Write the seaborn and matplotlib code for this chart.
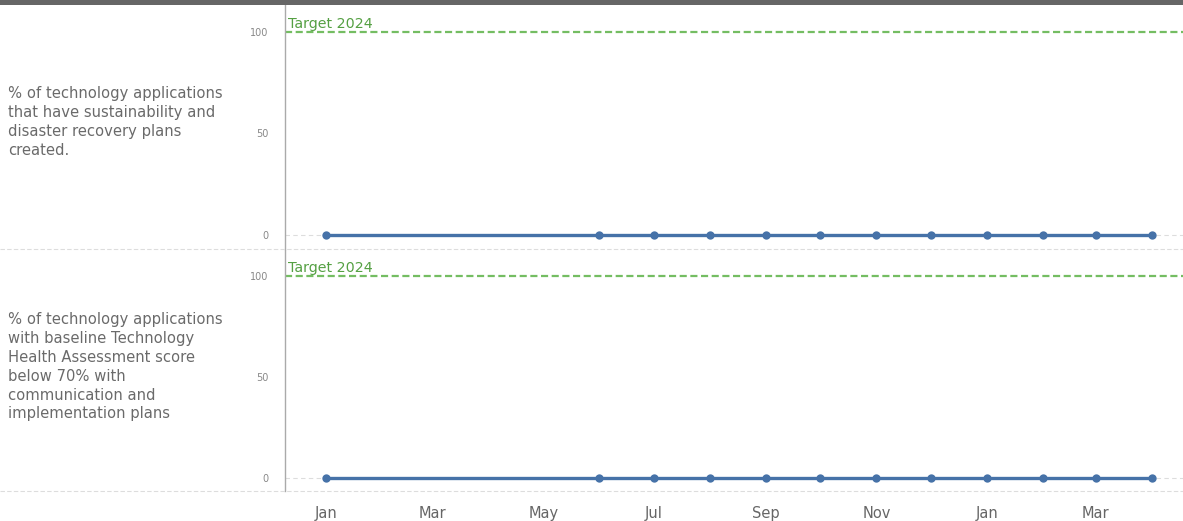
import matplotlib
matplotlib.use("Agg")
import matplotlib.pyplot as plt
import matplotlib.dates as mdates
from matplotlib.lines import Line2D
from matplotlib.patches import Rectangle
import matplotlib.transforms as mtrans
import pandas as pd
import seaborn as sns

# ---- data ----
months = ["2023-01-01", "2023-06-01", "2023-07-01", "2023-08-01", "2023-09-01",
          "2023-10-01", "2023-11-01", "2023-12-01", "2024-01-01", "2024-02-01",
          "2024-03-01", "2024-04-01"]
values_top = [0, 0, 0, 0, 0, 0, 0, 0, 0, 0, 0, 0]
values_bottom = [0, 0, 0, 0, 0, 0, 0, 0, 0, 0, 0, 0]
target_value = 100
target_label = "Target 2024"
panel_labels = [
    "% of technology applications\nthat have sustainability and\ndisaster recovery plans\ncreated.",
    "% of technology applications\nwith baseline Technology\nHealth Assessment score\nbelow 70% with\ncommunication and\nimplementation plans",
]
y_ticks = [0, 50, 100]

sns.set_theme(style="white")
plt.rcParams["font.family"] = ["DejaVu Sans"]

W, H = 1183, 521
fig = plt.figure(figsize=(W / 100, H / 100), dpi=100)

left = 285 / W
width = (W - 285) / W
axes_specs = [
    (1 - 249 / H, 244 / H, values_top, panel_labels[0], (-6.9, 113.3), 0.52),
    (1 - 491 / H, 241 / H, values_bottom, panel_labels[1], (-6.4, 113), 0.515),
]

xmin = pd.Timestamp("2022-12-09 10:00")
xmax = pd.Timestamp("2024-04-18 06:00")

line_color = "#4672a8"
green = "#74bd62"
text_green = "#55a043"

for i, (bottom, height, vals, label, ylim, yfrac) in enumerate(axes_specs):
    ax = fig.add_axes([left, bottom, width, height])
    df = pd.DataFrame({"date": pd.to_datetime(months), "value": vals})
    ax.axhline(0, color="#dddddd", lw=0.8, ls=(0, (4, 3)), zorder=0)
    sns.lineplot(data=df, x="date", y="value", ax=ax, color=line_color,
                 lw=2.4, marker="o", markersize=6, markeredgewidth=0,
                 zorder=3)
    ax.axhline(target_value, color=green, lw=1.6, ls=(0, (3.2, 1.6)), zorder=2)
    trans = mtrans.blended_transform_factory(ax.transAxes, ax.transData)
    ax.text(0.003, target_value + 0.6, target_label, transform=trans,
            color=text_green, fontsize=10.3, va="bottom", ha="left")
    ax.set_xlim(xmin, xmax)
    ax.set_ylim(*ylim)
    ax.set_yticks(y_ticks)
    ax.tick_params(axis="y", length=0, pad=12, labelsize=7, labelcolor="#888888")
    ax.set_xlabel("")
    ax.set_ylabel("")
    ax.xaxis.set_major_locator(mdates.MonthLocator(bymonth=[1, 3, 5, 7, 9, 11]))
    ax.xaxis.set_major_formatter(mdates.DateFormatter("%b"))
    if i == 0:
        ax.tick_params(axis="x", length=0, labelbottom=False)
    else:
        ax.tick_params(axis="x", length=0, pad=11, labelsize=10.5,
                       labelcolor="#666666")
    for s in ["top", "right", "bottom"]:
        ax.spines[s].set_visible(False)
    ax.spines["left"].set_color("#aaaaaa")
    ax.spines["left"].set_linewidth(1.0)
    ax.patch.set_alpha(0)
    # panel label on left
    fig.text(8 / W, bottom + height * yfrac, label, ha="left", va="center",
             fontsize=10.6, color="#6a6a6a", linespacing=1.32)
    # dashed separator below panel
    yb = bottom
    fig.add_artist(Line2D([0, 1], [yb, yb], transform=fig.transFigure,
                          color="#dddddd", lw=0.8, ls=(0, (4, 2))))

# top dark bar
fig.add_artist(Rectangle((0, 1 - 5 / H), 1, 5 / H, transform=fig.transFigure,
                         color="#666666", lw=0))

fig.savefig("out.png", dpi=100)
